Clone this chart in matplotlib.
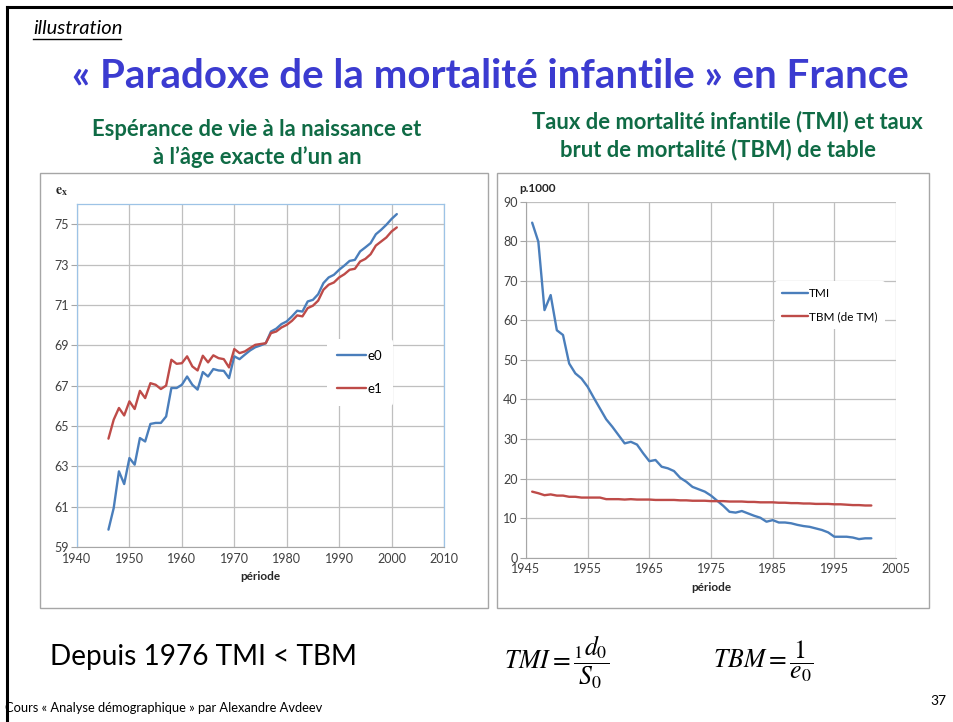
import matplotlib
matplotlib.use("Agg")
import matplotlib.pyplot as plt
from matplotlib.patches import Rectangle
from matplotlib.lines import Line2D

plt.rcParams['font.family'] = ['Lato', 'DejaVu Sans']
plt.rcParams['mathtext.fontset'] = 'stix'

# ---------------- data ----------------
years = list(range(1946, 2002))

e0 = [59.86, 60.93, 62.75, 62.12, 63.41, 63.08, 64.40, 64.23, 65.10, 65.15,
      65.15, 65.47, 66.88, 66.88, 67.04, 67.45, 67.04, 66.80, 67.67, 67.45,
      67.82, 67.75, 67.73, 67.37, 68.45, 68.31, 68.53, 68.74, 68.90, 68.99,
      69.10, 69.68, 69.82, 70.05, 70.18, 70.43, 70.71, 70.67, 71.17, 71.25,
      71.53, 72.08, 72.36, 72.49, 72.74, 72.95, 73.18, 73.23, 73.65, 73.85,
      74.06, 74.50, 74.72, 74.97, 75.26, 75.50]

e1 = [64.37, 65.31, 65.89, 65.52, 66.22, 65.84, 66.74, 66.38, 67.12, 67.04,
      66.83, 67.00, 68.28, 68.08, 68.11, 68.45, 67.95, 67.75, 68.48, 68.15,
      68.50, 68.36, 68.31, 67.90, 68.81, 68.61, 68.69, 68.86, 69.02, 69.06,
      69.10, 69.60, 69.68, 69.88, 70.01, 70.21, 70.48, 70.43, 70.84, 70.96,
      71.21, 71.75, 72.00, 72.11, 72.36, 72.52, 72.74, 72.79, 73.15, 73.28,
      73.51, 73.94, 74.14, 74.34, 74.64, 74.84]

tmi = [84.7, 79.9, 62.6, 66.4, 57.5, 56.3, 49.1, 46.6, 45.3, 43.2,
       40.4, 37.7, 35.0, 33.1, 31.0, 28.9, 29.3, 28.6, 26.4, 24.4,
       24.7, 23.0, 22.6, 21.9, 20.2, 19.2, 17.9, 17.3, 16.7, 15.7,
       14.4, 13.1, 11.6, 11.4, 11.8, 11.2, 10.6, 10.1, 9.1, 9.5,
       8.9, 8.9, 8.7, 8.3, 8.0, 7.8, 7.4, 7.0, 6.4, 5.3,
       5.3, 5.3, 5.1, 4.7, 4.9, 4.9]

tbm = [16.7, 16.3, 15.8, 16.0, 15.7, 15.7, 15.4, 15.4, 15.2, 15.2,
       15.2, 15.2, 14.8, 14.8, 14.8, 14.7, 14.8, 14.7, 14.7, 14.7,
       14.6, 14.6, 14.6, 14.6, 14.5, 14.5, 14.4, 14.4, 14.4, 14.3,
       14.3, 14.3, 14.2, 14.2, 14.2, 14.1, 14.1, 14.0, 14.0, 14.0,
       13.9, 13.9, 13.8, 13.8, 13.7, 13.7, 13.6, 13.6, 13.6, 13.5,
       13.5, 13.4, 13.3, 13.3, 13.2, 13.2]

left_xticks = [1940, 1950, 1960, 1970, 1980, 1990, 2000, 2010]
left_yticks = [59, 61, 63, 65, 67, 69, 71, 73, 75]
right_xticks = [1945, 1955, 1965, 1975, 1985, 1995, 2005]
right_yticks = [0, 10, 20, 30, 40, 50, 60, 70, 80, 90]

BLUE = '#4A7EBB'
RED = '#BE4B48'
GRID = '#BFBFBF'
W, H = 954, 722

fig = plt.figure(figsize=(9.54, 7.22), dpi=100)
fig.patch.set_facecolor('white')

def fx(px):
    return px / W

def fy(py):
    return 1 - py / H

# slide border (top + left)
fig.add_artist(Line2D([fx(7), 1.0], [fy(7), fy(7)], color='black', lw=2.2))
fig.add_artist(Line2D([fx(7), fx(7)], [fy(7), 0.0], color='black', lw=2.2))

# chart frames
for (x0, y0, x1, y1) in [(40, 173, 488, 608), (497, 173, 929, 608)]:
    fig.add_artist(Rectangle((fx(x0), fy(y1)), fx(x1 - x0), (y1 - y0) / H,
                             fill=False, edgecolor='#A6A6A6', lw=1.0))

# texts
fig.text(fx(33), fy(29), 'illustration', fontsize=14.5, style='italic',
         va='center', ha='left', color='black')
fig.add_artist(Line2D([fx(33), fx(121)], [fy(39), fy(39)], color='black', lw=1.0))

fig.text(fx(490), fy(77), '« Paradoxe de la mortalité infantile » en France',
         fontsize=29, fontweight='bold', color='#3B3BD0', ha='center', va='center')

GREEN = '#0F6B45'
fig.text(fx(257), fy(130), 'Espérance de vie à la naissance et', fontsize=15.8,
         fontweight='bold', color=GREEN, ha='center', va='center')
fig.text(fx(257), fy(157), 'à l’âge exacte d’un an', fontsize=15.8,
         fontweight='bold', color=GREEN, ha='center', va='center')
fig.text(fx(727), fy(122), 'Taux de mortalité infantile (TMI) et taux', fontsize=15.8,
         fontweight='bold', color=GREEN, ha='center', va='center')
fig.text(fx(718), fy(150), 'brut de mortalité (TBM) de table', fontsize=15.8,
         fontweight='bold', color=GREEN, ha='center', va='center')

fig.text(fx(50), fy(657), 'Depuis 1976 TMI < TBM', fontsize=20.2,
         ha='left', va='center', color='black')
fig.text(fx(504), fy(662), r'$TMI = \dfrac{{}_{1}d_{0}}{S_{0}}$', fontsize=18.5,
         ha='left', va='center')
fig.text(fx(713), fy(661), r'$TBM = \dfrac{1}{e_{0}}$', fontsize=18.5,
         ha='left', va='center')
fig.text(fx(5), fy(708), 'Cours « Analyse démographique » par Alexandre Avdeev',
         fontsize=9.3, ha='left', va='center')
fig.text(fx(946), fy(701), '37', fontsize=10, ha='right', va='center')

# ---------------- left chart ----------------
ax1 = fig.add_axes([fx(77), fy(547), fx(444 - 77), (547 - 204) / H])
ax1.plot(years, e0, color=BLUE, lw=1.7, label='e0', solid_capstyle='round')
ax1.plot(years, e1, color=RED, lw=1.7, label='e1', solid_capstyle='round')
ax1.set_xlim(1940, 2010)
ax1.set_ylim(59, 76)
ax1.set_xticks(left_xticks)
ax1.set_yticks(left_yticks)
ax1.grid(True, color=GRID, lw=0.9)
ax1.set_axisbelow(True)
for s in ['top', 'right', 'left']:
    ax1.spines[s].set_color('#9DC3E6')
    ax1.spines[s].set_linewidth(0.9)
ax1.spines['bottom'].set_color('#A6A6A6')
ax1.tick_params(axis='both', labelsize=9, colors='#404040', length=4, width=0.8,
                color='#A6A6A6', pad=2)
ax1.tick_params(axis='x', length=0, pad=4)
ax1.set_xlabel('période', fontsize=8.5, fontweight='bold', labelpad=5, color='#262626')
fig.text(fx(55), fy(192), r'$\mathbf{e}_{\mathbf{x}}$', fontsize=10, ha='left', va='center',
         color='#262626')
leg1 = ax1.legend(loc='center left', bbox_to_anchor=(0.662, 0.509), frameon=True,
                  fontsize=9.5, handlelength=2.2, handletextpad=0.1,
                  labelspacing=1.6, borderpad=0.8)
leg1.get_frame().set_edgecolor('none')
leg1.get_frame().set_facecolor('white')
leg1.get_frame().set_alpha(1)

# ---------------- right chart ----------------
ax2 = fig.add_axes([fx(526), fy(557.7), fx(896 - 526), (557.7 - 201.7) / H])
ax2.plot(years, tmi, color=BLUE, lw=1.7, label='TMI', solid_capstyle='round')
ax2.plot(years, tbm, color=RED, lw=1.7, label='TBM (de TM)', solid_capstyle='round')
ax2.set_xlim(1945, 2005)
ax2.set_ylim(0, 90)
ax2.set_xticks(right_xticks)
ax2.set_yticks(right_yticks)
ax2.grid(True, color=GRID, lw=0.9)
ax2.set_axisbelow(True)
for s in ['top', 'right']:
    ax2.spines[s].set_visible(False)
ax2.spines['left'].set_color('#A6A6A6')
ax2.spines['bottom'].set_color('#A6A6A6')
ax2.tick_params(axis='both', labelsize=9, colors='#404040', length=4, width=0.8,
                color='#A6A6A6', pad=2)
ax2.tick_params(axis='x', length=0, pad=4)
ax2.set_xlabel('période', fontsize=8.5, fontweight='bold', labelpad=5, color='#262626')
fig.text(fx(519), fy(188), 'p.1000', fontsize=8.5, fontweight='bold', ha='left',
         va='center', color='#262626')
leg2 = ax2.legend(loc='center left', bbox_to_anchor=(0.657, 0.71), frameon=True,
                  fontsize=8.5, handlelength=2.2, handletextpad=0.1,
                  labelspacing=1.0, borderpad=0.6)
leg2.get_frame().set_edgecolor('none')
leg2.get_frame().set_facecolor('white')
leg2.get_frame().set_alpha(1)

fig.savefig('out.png', dpi=100)
